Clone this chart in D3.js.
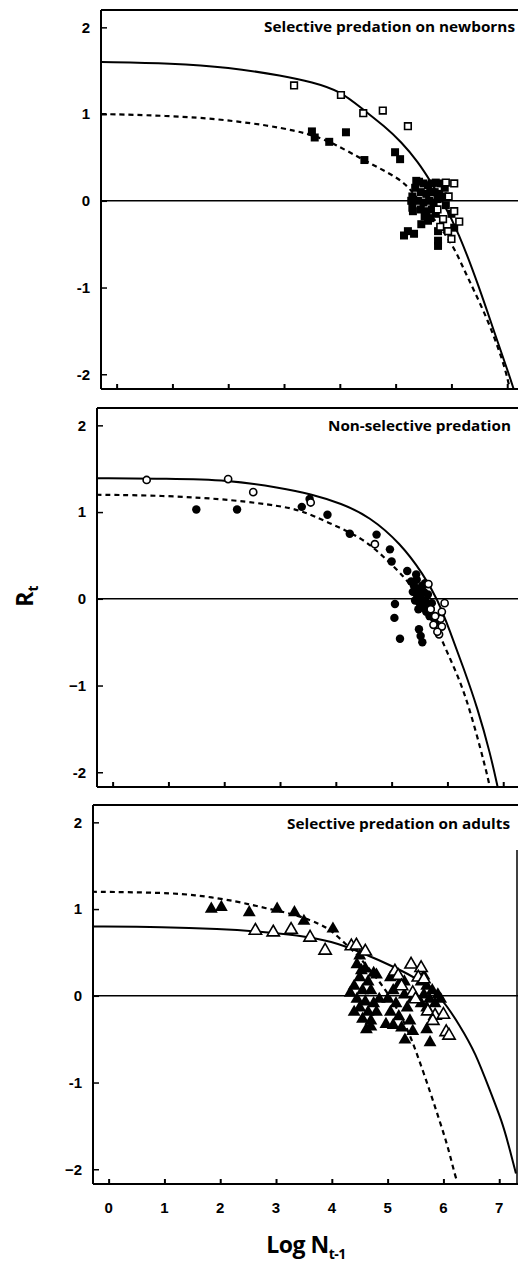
<!DOCTYPE html>
<html>
<head>
<meta charset="utf-8">
<script src="https://cdn.jsdelivr.net/npm/d3@7"></script>
<style>
  html, body { margin: 0; padding: 0; background: #fff; }
  svg { display: block; }
</style>
</head>
<body>
<svg id="chart" width="518" height="1264"></svg>
<script>
// ---- data: log N(t-1) vs R(t) for three predation regimes ----
const panelTitles = ["Selective predation on newborns", "Non-selective predation", "Selective predation on adults"];
const xTicks = [0, 1, 2, 3, 4, 5, 6, 7];
const yTicks = [2, 1, 0, -1, -2];
const yTickLabels = [
  ["2", "1", "0", "-1", "-2"],
  ["2", "1", "0", "\u22121", "-2"],
  ["2", "1", "0", "-1", "\u22122"]
];

// Panel 1: newborns (open squares / solid fit, filled squares / dashed fit)
const newbornOpen = [[3.18,1.33],[4.02,1.22],[4.42,1.01],[4.77,1.04],[5.22,0.86],[5.9,0.21],[6.05,0.2],
  [5.85,-0.21],[6.14,-0.24],[5.94,-0.35],[6.0,-0.44],[6.05,-0.12],[5.75,-0.1],[5.95,0.05],[5.8,-0.3]];
const newbornFilled = [[3.5,0.8],[3.55,0.73],[3.81,0.68],[4.11,0.79],[4.44,0.47],[4.99,0.56],[5.08,0.48],[5.37,0.23],
  [5.3,0.05],[5.35,0.15],[5.42,0.22],[5.5,0.2],[5.58,0.18],[5.65,0.2],[5.72,0.21],[5.8,0.2],[5.88,0.15],
  [5.45,0.1],[5.55,0.08],[5.62,0.1],[5.7,0.1],[5.78,0.08],[5.85,0.05],[5.4,0.0],[5.5,-0.02],[5.6,0.0],
  [5.68,-0.02],[5.75,0.02],[5.3,-0.08],[5.45,-0.1],[5.55,-0.12],[5.65,-0.1],[5.72,-0.15],[5.28,0.0],
  [5.31,-0.12],[5.22,-0.35],[5.33,-0.38],[5.15,-0.4],[5.46,-0.27],[5.58,-0.23],[5.76,-0.35],[5.76,-0.46],
  [5.76,-0.52],[6.0,-0.15],[6.05,-0.31],[5.9,-0.05],[5.62,-0.2],[5.52,-0.18]];
const newbornSolidFit = [[-0.27,1.6],[1,1.585],[2,1.54],[3,1.44],[3.5,1.37],[4.0,1.27],[4.42,1.05],[4.8,0.86],
  [5.1,0.68],[5.4,0.45],[5.64,0.21],[5.85,-0.02],[6.12,-0.35],[6.5,-1.0],[6.77,-1.52],[7.02,-1.98],[7.12,-2.18]];
const newbornDashedFit = [[-0.27,1.0],[0.5,0.99],[1.5,0.96],[2.1,0.92],[2.7,0.87],[3.18,0.81],[3.5,0.76],[3.9,0.66],
  [4.45,0.46],[5.1,0.25],[5.3,0.1],[5.5,-0.06],[5.8,-0.3],[6.05,-0.54],[6.23,-0.8],[6.41,-1.04],[6.66,-1.39],
  [6.84,-1.7],[6.97,-1.95],[7.05,-2.18]];

// Panel 2: non-selective (open circles / solid fit, filled circles / dashed fit)
const nonselOpen = [[0.61,1.37],[2.07,1.38],[2.52,1.23],[3.55,1.11],[4.7,0.63],[5.66,0.17],[5.75,-0.3],[5.9,-0.32],
  [5.85,-0.41],[5.88,-0.23],[5.9,-0.15],[5.95,-0.05],[5.78,-0.2],[5.82,-0.38],[5.7,-0.12]];
const nonselFilled = [[1.5,1.03],[2.23,1.03],[3.39,1.06],[3.53,1.15],[3.85,0.97],[4.25,0.75],[4.73,0.74],[4.97,0.57],
  [5.0,0.43],[5.28,0.32],[5.44,0.28],[5.35,0.2],[5.4,0.15],[5.45,0.22],[5.5,0.12],[5.38,0.08],[5.45,0.05],
  [5.52,0.02],[5.58,0.08],[5.6,-0.02],[5.5,-0.05],[5.42,-0.02],[5.55,-0.1],[5.65,-0.08],[5.62,-0.15],
  [5.7,-0.12],[5.68,-0.2],[5.75,-0.22],[5.72,-0.05],[5.78,-0.28],[5.55,0.15],[5.48,-0.12],[5.6,0.18],
  [5.65,0.05],[5.06,-0.06],[5.05,-0.22],[5.15,-0.46],[5.49,-0.35],[5.52,-0.43],[5.55,-0.5]];
const nonselSolidFit = [[-0.29,1.39],[1,1.385],[2.07,1.37],[3.0,1.28],[3.55,1.21],[4.1,1.1],[4.6,0.95],[5.16,0.64],
  [5.57,0.28],[5.82,0],[6.05,-0.38],[6.29,-0.8],[6.54,-1.26],[6.77,-1.79],[6.9,-2.17]];
const nonselDashedFit = [[-0.29,1.2],[1,1.19],[2.18,1.14],[3.0,1.07],[3.38,1.02],[3.86,0.88],[4.45,0.71],[4.8,0.52],
  [5.16,0.3],[5.55,0.0],[5.75,-0.25],[5.99,-0.61],[6.23,-0.95],[6.41,-1.3],[6.59,-1.72],[6.72,-2.05],[6.76,-2.17]];

// Panel 3: adults (open triangles / solid fit, filled triangles / dashed fit)
const adultsOpen = [[2.63,0.74],[2.95,0.72],[3.27,0.75],[3.61,0.66],[3.88,0.51],[4.35,0.56],[4.44,0.57],[4.6,0.5],
  [5.13,0.27],[5.42,0.35],[5.6,0.31],[5.55,0.2],[5.19,0.22],[5.45,0.02],[5.5,-0.05],[5.72,-0.19],[5.85,-0.24],
  [5.81,-0.3],[6.0,-0.23],[6.05,-0.43],[6.1,-0.47],[5.65,0.18],[5.25,0.1]];
const adultsFilled = [[1.84,0.99],[2.02,1.01],[2.52,0.95],[3.02,0.99],[3.33,0.95],[3.5,0.85],[4.02,0.76],[4.5,0.45],
  [4.53,0.28],[4.8,0.23],[4.45,0.35],[4.6,0.3],[4.5,0.2],[4.65,0.15],[4.4,0.1],[4.55,0.05],[4.7,0.05],
  [4.45,-0.05],[4.6,-0.08],[4.75,-0.1],[4.5,-0.15],[4.65,-0.2],[4.8,-0.2],[4.55,-0.28],[4.7,-0.3],[4.85,-0.05],
  [4.4,-0.2],[4.75,0.25],[4.33,0.02],[4.7,-0.37],[4.97,-0.34],[4.62,-0.4],[5.05,0.2],[5.2,0.12],[5.1,0.05],
  [5.3,0.0],[5.0,-0.05],[5.15,-0.1],[5.35,-0.15],[5.05,-0.2],[5.2,-0.25],[5.4,-0.3],[5.25,-0.38],[5.31,-0.52],
  [5.45,-0.42],[5.1,-0.35],[5.3,0.15],[5.45,-0.05],[5.6,0.15],[5.7,0.1],[5.8,0.05],[5.65,0.0],[5.75,-0.05],
  [5.9,0.0],[5.6,-0.1],[5.7,-0.15],[5.85,-0.1],[5.95,-0.05],[5.76,-0.55],[5.7,-0.4],[5.65,0.22]];
const adultsSolidFit = [[-0.3,0.8],[1,0.795],[2,0.77],[2.63,0.745],[3.4,0.7],[4.0,0.63],[4.53,0.5],[5.13,0.33],
  [5.55,0.19],[5.95,0],[6.3,-0.35],[6.57,-0.65],[6.85,-1.12],[7.05,-1.45],[7.16,-1.7],[7.3,-2.05]];
const adultsDashedFit = [[-0.3,1.2],[1.0,1.19],[1.61,1.16],[2.3,1.09],[2.81,1.01],[3.4,0.93],[3.81,0.82],[4.0,0.75],
  [4.24,0.6],[4.5,0.45],[5.0,0.05],[5.3,-0.3],[5.49,-0.6],[5.78,-1.14],[5.96,-1.5],[6.08,-1.74],[6.2,-2.05],[6.24,-2.13]];

// ---- layout ----
const layout = [
  { left: 101, top: 10,  bottom: 389, shape: "square",   open: newbornOpen, filled: newbornFilled, solid: newbornSolidFit, dashed: newbornDashedFit, title: { x: 515, y: 32, w: 251 } },
  { left: 97,  top: 408, bottom: 787, shape: "circle",   open: nonselOpen,  filled: nonselFilled,  solid: nonselSolidFit,  dashed: nonselDashedFit,  title: { x: 511, y: 431, w: 183 } },
  { left: 93,  top: 805, bottom: 1184, shape: "triangle", open: adultsOpen,  filled: adultsFilled,  solid: adultsSolidFit,  dashed: adultsDashedFit,  title: { x: 510, y: 829, w: 223 } }
];
const xDomain = [-0.28, 7.3];
const yDomain = [-2.17, 2.2];
const unitPx = 55.8;

// marker sizes (symbol area, px^2)
const markerSize = {
  square:   { filled: 64, open: 44 },
  circle:   { filled: 56, open: 40 },
  triangle: { filled: 72, open: 66 }
};

const svg = d3.select("#chart");

layout.forEach((p, i) => {
  const width = (xDomain[1] - xDomain[0]) * unitPx;
  const x = d3.scaleLinear().domain(xDomain).range([p.left, p.left + width]);
  const y = d3.scaleLinear().domain(yDomain).range([p.bottom, p.top]);
  const g = svg.append("g");

  // frame: top, left, bottom
  g.append("line").attr("x1", p.left).attr("x2", 518).attr("y1", p.top).attr("y2", p.top)
    .attr("stroke", "#000").attr("stroke-width", 2);
  g.append("line").attr("x1", p.left).attr("x2", 518).attr("y1", p.bottom).attr("y2", p.bottom)
    .attr("stroke", "#000").attr("stroke-width", 2);
  g.append("line").attr("x1", p.left).attr("x2", p.left).attr("y1", p.top).attr("y2", p.bottom)
    .attr("stroke", "#000").attr("stroke-width", 2);
  if (i === 2) {
    g.append("line").attr("x1", 517).attr("x2", 517).attr("y1", p.top + 45).attr("y2", p.bottom)
      .attr("stroke", "#000").attr("stroke-width", 1.5);
  }

  // y axis: inward ticks and labels
  const yAxis = d3.axisRight(y).tickValues(yTicks).tickSize(6).tickFormat("");
  const ya = g.append("g").attr("transform", `translate(${p.left},0)`).call(yAxis);
  ya.select(".domain").remove();
  ya.selectAll(".tick line").attr("stroke", "#000").attr("stroke-width", 1.5);
  g.selectAll(".ylab").data(yTicks).enter().append("text")
    .attr("x", p.left - 11).attr("y", d => y(d)).attr("dy", "0.36em")
    .attr("text-anchor", "end")
    .style("font-family", "'Liberation Sans', Arial, sans-serif")
    .style("font-weight", "bold").style("font-size", "15px")
    .text((d, k) => yTickLabels[i][k]);

  // x axis: inward ticks
  const xAxis = d3.axisTop(x).tickValues(xTicks).tickSize(5).tickFormat("");
  const xa = g.append("g").attr("transform", `translate(0,${p.bottom})`).call(xAxis);
  xa.select(".domain").remove();
  xa.selectAll(".tick line").attr("stroke", "#000").attr("stroke-width", 2);
  if (i === 2) {
    g.selectAll(".xlab").data(xTicks).enter().append("text")
      .attr("x", d => x(d)).attr("y", p.bottom + 29)
      .attr("text-anchor", "middle")
      .style("font-family", "'Liberation Sans', Arial, sans-serif")
      .style("font-weight", "bold").style("font-size", "15px")
      .text(d => d);
  }

  // zero line
  g.append("line").attr("x1", p.left).attr("x2", 518).attr("y1", y(0)).attr("y2", y(0))
    .attr("stroke", "#000").attr("stroke-width", 1.6);

  // panel title
  g.append("text").attr("x", p.title.x).attr("y", p.title.y).attr("text-anchor", "end")
    .attr("textLength", p.title.w).attr("lengthAdjust", "spacingAndGlyphs")
    .style("font-family", "'Open Sans', sans-serif").style("font-weight", "bold").style("font-size", "14px")
    .text(panelTitles[i]);

  // fitted curves
  const clipId = "clip" + i;
  svg.append("clipPath").attr("id", clipId).append("rect")
    .attr("x", p.left).attr("y", p.top).attr("width", 518 - p.left).attr("height", p.bottom - p.top);
  const line = d3.line().x(d => x(d[0])).y(d => y(d[1])).curve(d3.curveBasis);
  const curves = g.append("g").attr("clip-path", `url(#${clipId})`);
  curves.append("path").attr("d", line(p.solid)).attr("fill", "none")
    .attr("stroke", "#000").attr("stroke-width", 2);
  curves.append("path").attr("d", line(p.dashed)).attr("fill", "none")
    .attr("stroke", "#000").attr("stroke-width", 2.2).attr("stroke-dasharray", "5,4");

  // points
  const sym = p.shape === "square" ? d3.symbolSquare : p.shape === "circle" ? d3.symbolCircle : d3.symbolTriangle;
  const sz = markerSize[p.shape];
  const sy = p.shape === "triangle" ? -1 : 0;
  g.selectAll(".pf").data(p.filled).enter().append("path")
    .attr("transform", d => `translate(${x(d[0])},${y(d[1]) + sy})`)
    .attr("d", d3.symbol().type(sym).size(sz.filled))
    .attr("fill", "#000");
  g.selectAll(".po").data(p.open).enter().append("path")
    .attr("transform", d => `translate(${x(d[0])},${y(d[1]) + sy})`)
    .attr("d", d3.symbol().type(sym).size(sz.open))
    .attr("fill", "#fff").attr("stroke", "#000").attr("stroke-width", 1.6);
});

// axis titles
const yTitle = svg.append("text")
  .attr("transform", "translate(33,596) rotate(-90)")
  .attr("text-anchor", "middle")
  .style("font-family", "'Open Sans', sans-serif").style("font-weight", "bold").style("font-size", "23px");
yTitle.append("tspan").text("R");
yTitle.append("tspan").attr("dy", "5").style("font-size", "14px").text("t");

const xTitle = svg.append("text")
  .attr("x", 306).attr("y", 1253)
  .attr("text-anchor", "middle")
  .style("font-family", "'Open Sans', sans-serif").style("font-weight", "bold").style("font-size", "23px")
  .attr("letter-spacing", "-0.5");
xTitle.append("tspan").text("Log N");
xTitle.append("tspan").attr("dy", "6").style("font-size", "14px").text("t-1");
</script>
</body>
</html>
